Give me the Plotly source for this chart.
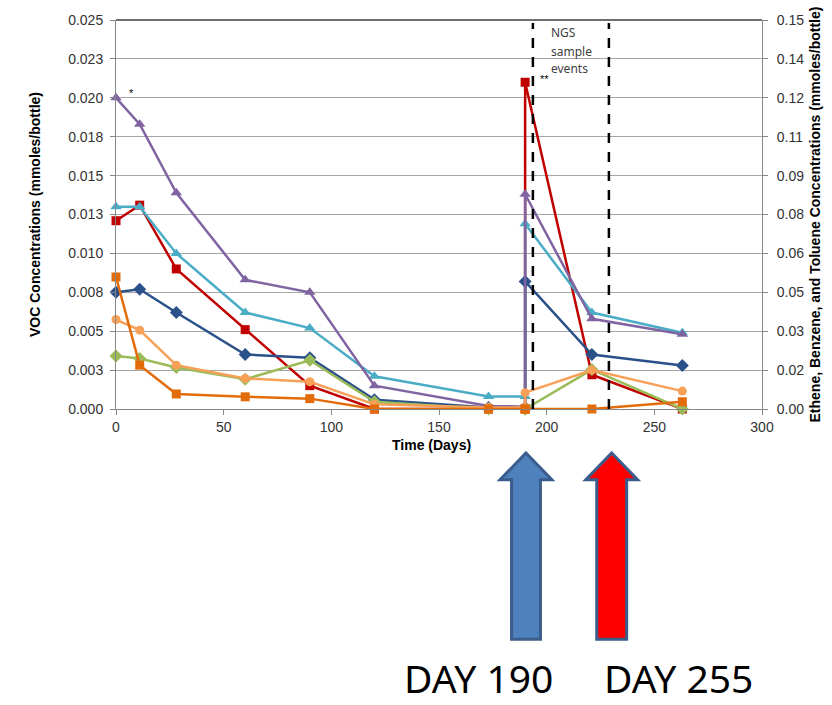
import plotly.graph_objects as go

# Sampling days (two readings at day 190: before and after the re-spike)
days = [0, 11, 28, 60, 90, 120, 173, 190, 190, 221, 263]

# VOC concentrations, mmoles/bottle (left axis)
voc_purple = [0.0200, 0.0183, 0.0139, 0.0083, 0.0075, 0.0015, 0.0002, 0.00015, 0.0138, 0.0058, 0.0048]
voc_cyan = [0.0130, 0.0130, 0.0100, 0.0062, 0.0052, 0.0021, 0.0008, 0.0008, 0.0119, 0.0062, 0.0049]
voc_red = [0.0121, 0.0131, 0.0090, 0.0051, 0.0015, 0.0, 0.0, 0.0, 0.0210, 0.0022, 0.0]
voc_blue = [0.0075, 0.0077, 0.0062, 0.0035, 0.0033, 0.0006, 0.0001, 0.0001, 0.0082, 0.0035, 0.0028]

# Ethene, benzene and toluene, mmoles/bottle (right axis)
etb_lightorange = [0.0345, 0.0304, 0.0169, 0.0118, 0.0105, 0.0018, 0.0006, 0.0006, 0.0063, 0.0150, 0.0069]
etb_green = [0.0204, 0.0195, 0.0160, 0.0115, 0.0188, 0.0028, 0.0, 0.0, 0.0, 0.0152, 0.0]
etb_darkorange = [0.0509, 0.0169, 0.0058, 0.0047, 0.0040, 0.0, 0.0, 0.0, 0.0, 0.0, 0.0028]

# Axis ticks
x_ticks = [0, 50, 100, 150, 200, 250, 300]
y_left_ticks = [i * 0.0025 for i in range(11)]
y_left_labels = ["0.000", "0.003", "0.005", "0.008", "0.010", "0.013",
                 "0.015", "0.018", "0.020", "0.023", "0.025"]
y_right_ticks = [i * 0.015 for i in range(11)]
y_right_labels = ["0.00", "0.02", "0.03", "0.05", "0.06", "0.08",
                  "0.09", "0.11", "0.12", "0.14", "0.15"]

# NGS sampling event days and the days highlighted below the chart
ngs_days = [193.6, 228.9]
arrow_days = [190.4, 230.2]

FONT = "Liberation Sans, Arial, sans-serif"
X_MAX = 300

fig = go.Figure()

series = [
    ("Series R", voc_red, "y", "#C00000", "square", 9),
    ("Series C", voc_cyan, "y", "#4BACC6", "triangle-up", 10),
    ("Series B", voc_blue, "y", "#2A5189", "diamond", 10),
    ("Series P", voc_purple, "y", "#8064A2", "triangle-up", 10),
    ("Series G", etb_green, "y2", "#9BBB59", "diamond", 10),
    ("Series LO", etb_lightorange, "y2", "#F8A058", "circle", 9),
    ("Series DO", etb_darkorange, "y2", "#E36C0A", "square", 9),
]
for name, vals, yax, color, sym, size in series:
    fig.add_trace(go.Scatter(
        x=days, y=vals, name=name, yaxis=yax, mode="lines+markers",
        line=dict(color=color, width=2.5),
        marker=dict(symbol=sym, size=size, color=color),
        cliponaxis=False,
    ))

shapes = []
# dashed markers for the NGS sample events
for d in ngs_days:
    shapes.append(dict(type="line", xref="x", yref="paper", x0=d, x1=d, y0=0, y1=0.992,
                       line=dict(color="black", width=2.5, dash="10px,9px")))
# dark top border of the plot area
shapes.append(dict(type="line", xref="paper", yref="paper", x0=0, x1=1, y0=1, y1=1,
                   line=dict(color="#404040", width=1.5)))


def up_arrow(day, head_half, shaft_half, fill):
    cx = day / X_MAX
    top, neck, bottom = -0.113, -0.182, -0.592
    hh, sh = head_half / 648, shaft_half / 648
    path = (f"M {cx},{top} L {cx + hh},{neck} L {cx + sh},{neck} L {cx + sh},{bottom} "
            f"L {cx - sh},{bottom} L {cx - sh},{neck} L {cx - hh},{neck} Z")
    return dict(type="path", xref="paper", yref="paper", path=path,
                fillcolor=fill, line=dict(color="#3A5D8C", width=3), layer="above")


shapes.append(up_arrow(arrow_days[0], 26, 14.5, "#4F81BD"))
shapes.append(up_arrow(arrow_days[1], 26, 15, "#FF0000"))

annotations = [
    dict(text="*", x=7, y=0.0203, xref="x", yref="y", showarrow=False,
         xanchor="center", yanchor="middle",
         font=dict(size=11, color="black", family=FONT)),
    dict(text="**", x=199, y=0.0212, xref="x", yref="y", showarrow=False,
         xanchor="center", yanchor="middle",
         font=dict(size=11, color="black", family=FONT)),
    dict(text="<b>Time (Days)</b>", x=0.488, y=-0.0923, xref="paper", yref="paper",
         xanchor="center", yanchor="middle", showarrow=False,
         font=dict(size=14, color="black", family=FONT)),
]
for word, yv in zip(["NGS", "sample", "events"], [0.0242, 0.0230, 0.0219]):
    annotations.append(dict(text=word, x=201.3, y=yv, xref="x", yref="y", xanchor="left",
                            yanchor="middle", showarrow=False,
                            font=dict(size=12, color="#404040", family="Noto Sans")))
for label, xp in [("DAY 190", 0.561), ("DAY 255", 0.870)]:
    annotations.append(dict(text=label, x=xp, y=-0.69, xref="paper", yref="paper",
                            xanchor="center", yanchor="middle", showarrow=False,
                            font=dict(size=39, color="black", family="Noto Sans")))

axis_font = dict(size=14, color="#333333", family=FONT)
title_font = dict(size=14, color="black", family=FONT)

fig.update_layout(
    width=832, height=705,
    margin=dict(l=116, r=68, t=19, b=296),
    paper_bgcolor="white", plot_bgcolor="white",
    showlegend=False,
    shapes=shapes, annotations=annotations,
    xaxis=dict(range=[0, X_MAX], tickvals=x_ticks, ticks="outside", ticklen=5,
               tickcolor="#868686", showline=True, linecolor="#868686", linewidth=1,
               showgrid=False, zeroline=False, tickfont=axis_font),
    yaxis=dict(range=[0, 0.025], tickvals=y_left_ticks, ticktext=y_left_labels,
               ticks="outside", ticklen=5, tickcolor="#868686",
               showline=True, linecolor="#868686", linewidth=1,
               showgrid=True, gridcolor="#A6A6A6", gridwidth=1, zeroline=False,
               tickfont=axis_font, ticklabelstandoff=4,
               title=dict(text="<b>VOC Concentrations (mmoles/bottle)</b>", font=title_font, standoff=24)),
    yaxis2=dict(range=[0, 0.15], tickvals=y_right_ticks, ticktext=y_right_labels,
                overlaying="y", side="right", ticks="outside", ticklen=5, tickcolor="#868686",
                showline=True, linecolor="#868686", linewidth=1,
                showgrid=False, zeroline=False, tickfont=axis_font, ticklabelstandoff=6,
                title=dict(text="<b>Ethene, Benzene, and Toluene Concentrations (mmoles/bottle)</b>",
                           font=title_font, standoff=6)),
)

fig.write_html("out.html")
